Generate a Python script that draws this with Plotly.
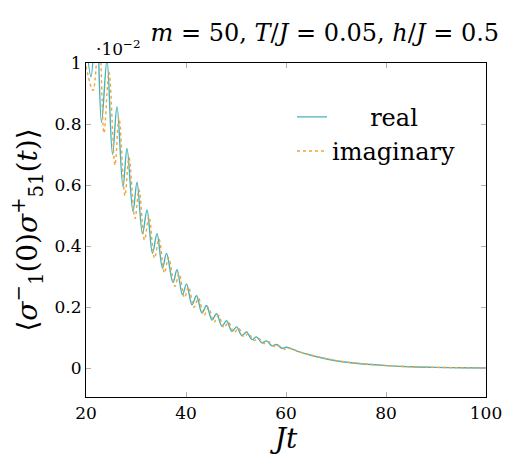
import plotly.graph_objects as go

# Extrema / sample points (x = Jt, y in units of 1e-2)
real_x = [20.0, 21.0, 22.1, 23.1, 24.2, 25.3, 26.2, 27.4, 28.2, 29.4, 30.2, 31.3, 32.2, 33.3,
          34.2, 35.3, 36.1, 37.4, 38.2, 39.3, 40.1, 41.2, 42.1, 43.2, 44.1, 45.2, 46.1, 47.2,
          48.1, 49.2, 50.1, 51.2, 52.1, 53.2, 54.1, 55.2, 56.1, 57.2, 58.1, 59.2, 60.1,
          62.5, 65.0, 70.0, 75.0, 80.0, 85.0, 90.0, 95.0, 100.0]
real_y = [1.08, 0.955, 1.15, 0.805, 1.01, 0.70, 0.857, 0.594, 0.72, 0.513, 0.609, 0.44, 0.518, 0.376,
          0.44, 0.327, 0.376, 0.28, 0.322, 0.240, 0.276, 0.207, 0.237, 0.180, 0.205, 0.157, 0.178, 0.137,
          0.155, 0.120, 0.135, 0.106, 0.118, 0.093, 0.102, 0.083, 0.089, 0.073, 0.077, 0.065, 0.068,
          0.054, 0.042, 0.024, 0.014, 0.008, 0.004, 0.002, 0.001, 0.0]

imag_x = [20.0, 21.4, 22.6, 23.6, 24.6, 25.8, 26.6, 27.8, 28.6, 29.8, 30.6, 31.7, 32.6, 33.7,
          34.6, 35.7, 36.5, 37.8, 38.6, 39.7, 40.5, 41.6, 42.5, 43.6, 44.5, 45.6, 46.5, 47.6,
          48.5, 49.6, 50.5, 51.6, 52.5, 53.6, 54.5, 55.6, 56.5, 57.6, 58.5, 59.6, 60.5,
          62.9, 65.3, 70.3, 75.3, 80.3, 85.3, 90.3, 95.3, 100.0]
imag_y = [0.99, 0.91, 1.10, 0.77, 0.97, 0.665, 0.82, 0.565, 0.69, 0.49, 0.585, 0.42, 0.497, 0.36,
          0.423, 0.312, 0.362, 0.268, 0.31, 0.231, 0.266, 0.199, 0.229, 0.173, 0.198, 0.151, 0.172, 0.132,
          0.150, 0.116, 0.130, 0.102, 0.114, 0.090, 0.098, 0.080, 0.086, 0.071, 0.074, 0.062, 0.065,
          0.052, 0.041, 0.024, 0.014, 0.008, 0.004, 0.002, 0.001, 0.0]

x_ticks = [20, 40, 60, 80, 100]
y_ticks = [0, 0.2, 0.4, 0.6, 0.8, 1]
y_tick_labels = ["0", "0.2", "0.4", "0.6", "0.8", "1"]

SERIF = "DejaVu Serif"

fig = go.Figure()
fig.add_trace(go.Scatter(
    x=real_x, y=real_y, mode="lines", name="\u00a0\u00a0\u00a0\u00a0\u00a0real",
    line=dict(color="#45b3be", width=1.4, shape="spline", smoothing=1.0),
))
fig.add_trace(go.Scatter(
    x=imag_x, y=imag_y, mode="lines", name="imaginary",
    line=dict(color="#f0a43a", width=1.4, dash="dot", shape="spline", smoothing=1.0),
))

axis_common = dict(
    showgrid=False, zeroline=False, showline=True, linecolor="black", linewidth=1.2,
    mirror="allticks", ticks="inside", ticklen=5, tickcolor="#b0b0b0", tickwidth=1,
    tickfont=dict(family=SERIF, size=17, color="black"),
)

fig.update_layout(
    width=514, height=462,
    margin=dict(l=86, r=24, t=63, b=65),
    paper_bgcolor="white", plot_bgcolor="white",
    font=dict(family=SERIF),
    showlegend=True,
    legend=dict(
        x=0.515, y=0.905, xanchor="left", yanchor="top",
        bgcolor="rgba(255,255,255,0)", borderwidth=0,
        font=dict(family=SERIF, size=24, color="black"),
        itemwidth=30, tracegroupgap=0,
    ),
    title=dict(
        text="<i>m</i> = 50, <i>T</i>/<i>J</i> = 0.05, <i>h</i>/<i>J</i> = 0.5",
        x=0.632, xanchor="center", y=0.93, yanchor="middle",
        font=dict(family=SERIF, size=24, color="black"),
    ),
    xaxis=dict(
        range=[20, 100], tickvals=x_ticks,
        title=dict(text="<i>Jt</i>", font=dict(family=SERIF, size=28, color="black"), standoff=6),
        **axis_common,
    ),
    yaxis=dict(
        range=[-0.095, 1.0], tickvals=y_ticks, ticktext=y_tick_labels,
        title=dict(
            text="⟨<i>σ</i><sup>−</sup><sub>1</sub>(0)<i>σ</i><sup>+</sup><sub>51</sub>(<i>t</i>)⟩",
            font=dict(family=SERIF, size=28, color="black"), standoff=8,
        ),
        **axis_common,
    ),
)

fig.add_annotation(
    xref="paper", yref="paper", x=0.02, y=1.0, xanchor="left", yanchor="bottom",
    text="·10<sup>−2</sup>", showarrow=False, yshift=2,
    font=dict(family=SERIF, size=17, color="black"),
)

fig.write_html("out.html")
